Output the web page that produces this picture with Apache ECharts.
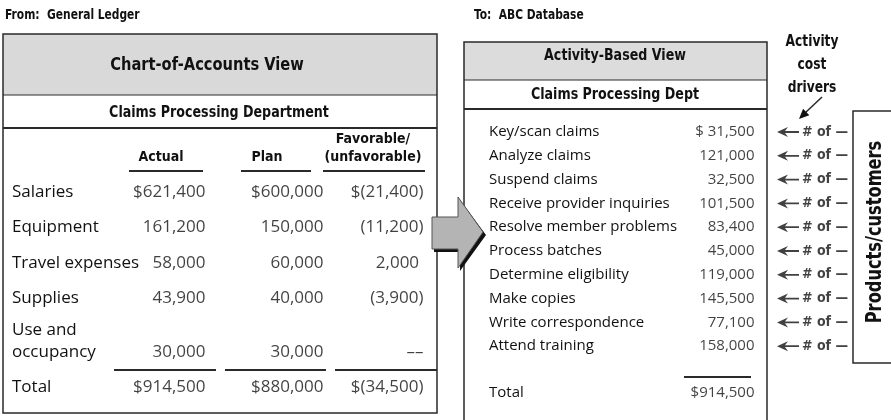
<!DOCTYPE html>
<html>
<head>
<meta charset="utf-8">
<script src="https://cdn.jsdelivr.net/npm/echarts@6/dist/echarts.min.js"></script>
<style>
  html, body { margin: 0; background: #fff; }
  #chart { width: 891px; height: 420px; }
</style>
</head>
<body>
<div id="chart"></div>
<script>
// General-ledger view (left) mapped onto the activity-based view (right).
const accounts = ['Salaries', 'Equipment', 'Travel expenses', 'Supplies', 'Use and\noccupancy', 'Total'];
const actual = [621400, 161200, 58000, 43900, 30000, 914500];
const plan = [600000, 150000, 60000, 40000, 30000, 880000];
const variance = [-21400, -11200, 2000, -3900, 0, -34500];
const columns = ['Actual', 'Plan', 'Favorable/\n(unfavorable)'];

const activities = [
  'Key/scan claims', 'Analyze claims', 'Suspend claims', 'Receive provider inquiries',
  'Resolve member problems', 'Process batches', 'Determine eligibility', 'Make copies',
  'Write correspondence', 'Attend training',
];
const activityCost = [31500, 121000, 32500, 101500, 83400, 45000, 119000, 145500, 77100, 158000];
const activityTotal = 914500;
const driverLabel = '# of —';

const NARROW = '"Liberation Sans Narrow", "DejaVu Sans Condensed", "DejaVu Sans", sans-serif';
const BODY = '"Open Sans", "Noto Sans", sans-serif';
const INK = '#111';
const EDGE = '#2a2a2a';
const SQUEEZE = 0.88; // fake a condensed bold face for headings

const fmt = (n) => n.toLocaleString('en-US');

function cell(c, v, r) {
  const dollar = r === 0 || r === accounts.length - 1 ? '$' : '';
  if (c < 2) return dollar + fmt(v);
  if (v < 0) return dollar + '(' + fmt(-v) + ')';
  if (v === 0) return '––';
  return dollar + fmt(v) + ' ';
}

// ---- graphic helpers (frames, rules, headings) ----
const text = (x, y, str, size, o = {}) => ({
  type: 'text', x, y, rotation: o.rot || 0, scaleX: SQUEEZE, z: 20,
  style: {
    text: str, font: `bold ${size}px ${NARROW}`, fill: INK,
    textAlign: o.align || 'center', textVerticalAlign: 'middle', lineHeight: o.lh,
  },
});
const line = (x1, y1, x2, y2, w = 1.5) => ({
  type: 'line', z: 15, shape: { x1, y1, x2, y2 }, style: { stroke: EDGE, lineWidth: w },
});
const rect = (x, y, w, h, fill, stroke) => ({
  type: 'rect', z: stroke ? 15 : 0, shape: { x, y, width: w, height: h },
  style: { fill: fill || 'none', stroke: stroke || 'none', lineWidth: 1.5 },
});

// small arrow under "Activity cost drivers"
const tip = [799, 119];
const graphics = [
  text(5, 15, 'From:  General Ledger', 13.5, { align: 'left' }),
  text(474, 15, 'To:  ABC Database', 13.5, { align: 'left' }),

  // left box
  rect(3, 34, 434, 61, '#d9d9d9'),
  rect(3, 34, 434, 379, null, EDGE),
  line(3, 95, 437, 95, 1),
  line(3, 128, 437, 128, 2),
  text(207, 65, 'Chart-of-Accounts View', 18.5),
  text(219, 113, 'Claims Processing Department', 16),
  line(129, 171, 203, 171, 2), line(241, 171, 311, 171, 2), line(323, 171, 425, 171, 2),
  line(114, 370, 216, 370, 2), line(225, 370, 326, 370, 2), line(335, 370, 437, 370, 2),

  // right box
  rect(464, 42, 303, 38, '#dcdcdc'),
  rect(464, 42, 303, 400, null, EDGE),
  line(464, 80, 767, 80, 1),
  line(464, 109, 767, 109, 2),
  text(615, 56, 'Activity-Based View', 16),
  text(615, 95, 'Claims Processing Dept', 16),
  line(684, 377, 751, 377, 2),

  // cost drivers heading + pointer
  text(812, 65, 'Activity\ncost\ndrivers', 15.5, { lh: 23 }),
  line(822, 97, 805, 113, 1.5),
  { type: 'polygon', z: 20, shape: { points: [tip, [809.3, 115.3], [803.1, 108.8]] }, style: { fill: INK } },

  // products / customers box
  rect(853, 111, 60, 252, null, EDGE),
  text(876, 232, 'Products/customers', 20.5, { rot: Math.PI / 2 }),

  // big transfer arrow (shadow first)
  { type: 'polygon', z: 30,
    shape: { points: [[434, 220], [460, 220], [460, 200], [486, 235], [460, 271], [460, 252], [434, 252]] },
    style: { fill: '#111' } },
  { type: 'polygon', z: 31,
    shape: { points: [[432, 217], [458, 217], [458, 197], [483, 232], [458, 268], [458, 249], [432, 249]] },
    style: { fill: '#b4b4b4', stroke: '#555', lineWidth: 1 } },
];

// ---- grids: 0/1 ledger rows, 2 activity rows, 3 activity total, 4 drivers ----
const grids = [
  { left: 108, right: 891 - 426, top: 174.33, height: 141.33 },
  { left: 108, right: 891 - 426, top: 334.5, height: 70 },
  { left: 745, width: 20, top: 120.1, height: 238 },
  { left: 745, width: 20, top: 381, height: 24 },
  { left: 778, width: 20, top: 120.1, height: 238 },
];

const hiddenCat = (gi, data, extra = {}) => ({
  type: 'category', gridIndex: gi, data, show: false, inverse: true, ...extra,
});
const rowAxis = (gi, data, margin, size, extra = {}) => ({
  type: 'category', gridIndex: gi, data, inverse: true,
  axisLine: { show: false }, axisTick: { show: false }, splitLine: { show: false },
  axisLabel: { interval: 0, align: 'left', margin, fontSize: size, fontFamily: BODY, color: INK, ...extra },
});

const xAxis = [
  {
    type: 'category', gridIndex: 0, data: columns, position: 'top',
    axisLine: { show: false }, axisTick: { show: false },
    axisLabel: { interval: 0, margin: 8, fontSize: 14, fontWeight: 'bold', fontFamily: NARROW, color: INK, lineHeight: 18 },
  },
  hiddenCat(1, columns, { inverse: false }),
  hiddenCat(2, ['cost'], { inverse: false }),
  hiddenCat(3, ['cost'], { inverse: false }),
  hiddenCat(4, ['driver'], { inverse: false }),
];

const yAxis = [
  rowAxis(0, accounts.slice(0, 4), 96, 17),
  rowAxis(1, accounts.slice(4), 96, 17, {
    lineHeight: 22,
    formatter: (v) => (v.includes('\n') ? v + '\n ' : v),
  }),
  rowAxis(2, activities, 745 - 489, 15),
  rowAxis(3, ['Total'], 745 - 489, 15),
  hiddenCat(4, activities),
];

const colVals = [actual, plan, variance];
const colShift = [45, 57, 51];
const valueLabel = (size, extra) => ({
  show: true, position: 'left', distance: 0, color: INK, fontSize: size, fontFamily: BODY, ...extra,
});

const series = [];
colVals.forEach((vals, c) => {
  [[0, 0, 4], [1, 4, 6]].forEach(([gi, from, to]) => {
    series.push({
      type: 'scatter', xAxisIndex: gi, yAxisIndex: gi, symbolSize: 1, silent: true,
      itemStyle: { color: 'transparent' },
      data: vals.slice(from, to).map((v, i) => [c, i, v, from + i]),
      label: valueLabel(17, { offset: [colShift[c], 0], formatter: (p) => cell(p.value[0], p.value[2], p.value[3]) }),
    });
  });
});

series.push({
  type: 'scatter', xAxisIndex: 2, yAxisIndex: 2, symbolSize: 1, silent: true,
  itemStyle: { color: 'transparent' },
  data: activityCost.map((v, i) => [0, i, v]),
  label: valueLabel(15, { formatter: (p) => (p.value[1] === 0 ? '$ ' : '') + fmt(p.value[2]) }),
});
series.push({
  type: 'scatter', xAxisIndex: 3, yAxisIndex: 3, symbolSize: 1, silent: true,
  itemStyle: { color: 'transparent' },
  data: [[0, 0, activityTotal]],
  label: valueLabel(15, { formatter: (p) => '$' + fmt(p.value[2]) }),
});
series.push({
  type: 'scatter', xAxisIndex: 4, yAxisIndex: 4, silent: true,
  symbol: 'path://M0,5 L11,0 L8,4.1 L22,4.1 L22,5.9 L8,5.9 L11,10 Z',
  symbolSize: [22, 10], itemStyle: { color: INK },
  data: activities.map((a, i) => [0, i]),
  label: {
    show: true, position: 'right', distance: 3, formatter: driverLabel,
    color: INK, fontSize: 14, fontWeight: 'bold', fontFamily: NARROW,
  },
});

const chart = echarts.init(document.getElementById('chart'), null, { renderer: 'canvas' });
chart.setOption({
  animation: false,
  backgroundColor: '#fff',
  grid: grids,
  xAxis,
  yAxis,
  series,
  graphic: { elements: graphics },
});
</script>
</body>
</html>
